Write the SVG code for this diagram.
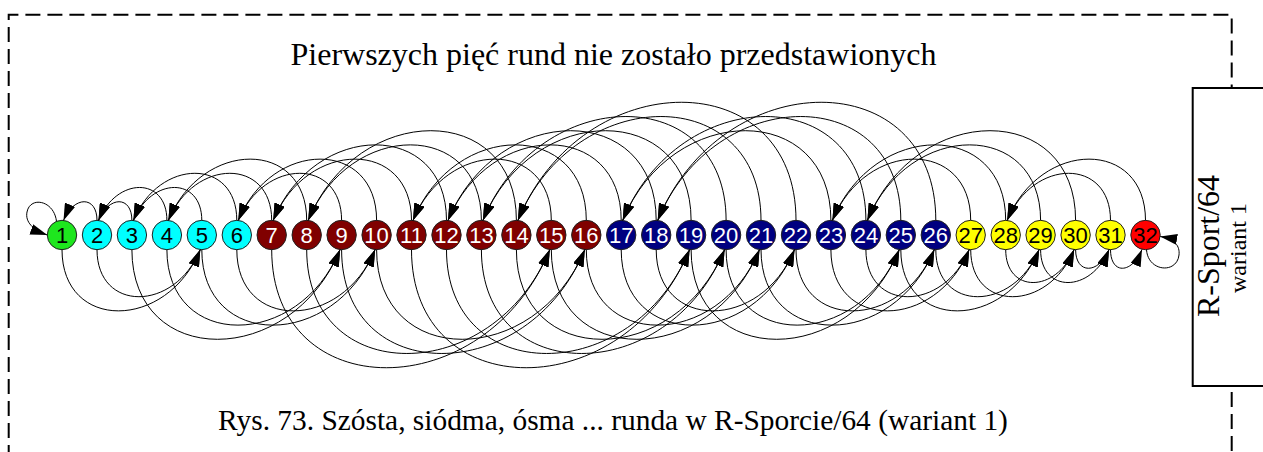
<svg xmlns="http://www.w3.org/2000/svg" width="1263" height="452" viewBox="0 0 1263 452">
<style>
.bd{fill:none;stroke:#000;stroke-width:2;stroke-dasharray:15 7}
.box{fill:#fff;stroke:#000;stroke-width:2}
.ser{font-family:"Liberation Serif","Times New Roman",serif;fill:#000}
.nd circle{stroke:#222;stroke-width:1}
.nd text{font-family:"Liberation Sans",Arial,sans-serif;font-size:22px;text-anchor:middle}
.g{fill:#1ee61e}.c{fill:#00ffff}.m{fill:#800000}.n{fill:#000080}.y{fill:#ffff00}.r{fill:#ff0000}
.tb{fill:#000}.tw{fill:#fff}
#edges path{fill:none;stroke:#000;stroke-width:1;marker-end:url(#ah)}
</style>
<defs>
<marker id="ah" viewBox="0 0 17 11" refX="17" refY="5.5" markerWidth="17" markerHeight="11" markerUnits="userSpaceOnUse" orient="auto"><path d="M0,0 L17,5.5 L0,11 z" fill="#000"/></marker>
</defs>
<rect width="1263" height="452" fill="#fff"/>
<path class="bd" d="M8.7,460 V14.7 H1231.7 V88"/>
<path class="bd" d="M1231.7,392 V460"/>
<text class="ser" x="613.5" y="65" font-size="32" text-anchor="middle">Pierwszych pięć rund nie zostało przedstawionych</text>
<text class="ser" x="613" y="430" font-size="29.4" text-anchor="middle">Rys. 73. Szósta, siódma, ósma ... runda w R-Sporcie/64 (wariant 1)</text>
<g id="label-box">
<rect class="box" x="1192.7" y="88" width="80" height="298"/>
<text class="ser" transform="translate(1219,246) rotate(-90)" font-size="32" text-anchor="middle">R-Sport/64</text>
<text class="ser" transform="translate(1246,248) rotate(-90)" font-size="24" text-anchor="middle">wariant 1</text>
</g>
<g class="nd">
<g id="n1"><circle cx="62" cy="235" r="14.7" class="g"/><text x="62" y="243.3" class="tb">1</text></g>
<g id="n2"><circle cx="97" cy="235" r="14.7" class="c"/><text x="97" y="243.3" class="tb">2</text></g>
<g id="n3"><circle cx="131.9" cy="235" r="14.7" class="c"/><text x="131.9" y="243.3" class="tb">3</text></g>
<g id="n4"><circle cx="166.9" cy="235" r="14.7" class="c"/><text x="166.9" y="243.3" class="tb">4</text></g>
<g id="n5"><circle cx="201.8" cy="235" r="14.7" class="c"/><text x="201.8" y="243.3" class="tb">5</text></g>
<g id="n6"><circle cx="236.8" cy="235" r="14.7" class="c"/><text x="236.8" y="243.3" class="tb">6</text></g>
<g id="n7"><circle cx="271.7" cy="235" r="14.7" class="m"/><text x="271.7" y="243.3" class="tw">7</text></g>
<g id="n8"><circle cx="306.7" cy="235" r="14.7" class="m"/><text x="306.7" y="243.3" class="tw">8</text></g>
<g id="n9"><circle cx="341.6" cy="235" r="14.7" class="m"/><text x="341.6" y="243.3" class="tw">9</text></g>
<g id="n10"><circle cx="376.6" cy="235" r="14.7" class="m"/><text x="376.6" y="243.3" class="tw">10</text></g>
<g id="n11"><circle cx="411.5" cy="235" r="14.7" class="m"/><text x="411.5" y="243.3" class="tw">11</text></g>
<g id="n12"><circle cx="446.5" cy="235" r="14.7" class="m"/><text x="446.5" y="243.3" class="tw">12</text></g>
<g id="n13"><circle cx="481.4" cy="235" r="14.7" class="m"/><text x="481.4" y="243.3" class="tw">13</text></g>
<g id="n14"><circle cx="516.4" cy="235" r="14.7" class="m"/><text x="516.4" y="243.3" class="tw">14</text></g>
<g id="n15"><circle cx="551.3" cy="235" r="14.7" class="m"/><text x="551.3" y="243.3" class="tw">15</text></g>
<g id="n16"><circle cx="586.3" cy="235" r="14.7" class="m"/><text x="586.3" y="243.3" class="tw">16</text></g>
<g id="n17"><circle cx="621.2" cy="235" r="14.7" class="n"/><text x="621.2" y="243.3" class="tw">17</text></g>
<g id="n18"><circle cx="656.2" cy="235" r="14.7" class="n"/><text x="656.2" y="243.3" class="tw">18</text></g>
<g id="n19"><circle cx="691.1" cy="235" r="14.7" class="n"/><text x="691.1" y="243.3" class="tw">19</text></g>
<g id="n20"><circle cx="726.1" cy="235" r="14.7" class="n"/><text x="726.1" y="243.3" class="tw">20</text></g>
<g id="n21"><circle cx="761" cy="235" r="14.7" class="n"/><text x="761" y="243.3" class="tw">21</text></g>
<g id="n22"><circle cx="796" cy="235" r="14.7" class="n"/><text x="796" y="243.3" class="tw">22</text></g>
<g id="n23"><circle cx="830.9" cy="235" r="14.7" class="n"/><text x="830.9" y="243.3" class="tw">23</text></g>
<g id="n24"><circle cx="865.9" cy="235" r="14.7" class="n"/><text x="865.9" y="243.3" class="tw">24</text></g>
<g id="n25"><circle cx="900.8" cy="235" r="14.7" class="n"/><text x="900.8" y="243.3" class="tw">25</text></g>
<g id="n26"><circle cx="935.8" cy="235" r="14.7" class="n"/><text x="935.8" y="243.3" class="tw">26</text></g>
<g id="n27"><circle cx="970.7" cy="235" r="14.7" class="y"/><text x="970.7" y="243.3" class="tb">27</text></g>
<g id="n28"><circle cx="1005.7" cy="235" r="14.7" class="y"/><text x="1005.7" y="243.3" class="tb">28</text></g>
<g id="n29"><circle cx="1040.6" cy="235" r="14.7" class="y"/><text x="1040.6" y="243.3" class="tb">29</text></g>
<g id="n30"><circle cx="1075.6" cy="235" r="14.7" class="y"/><text x="1075.6" y="243.3" class="tb">30</text></g>
<g id="n31"><circle cx="1110.5" cy="235" r="14.7" class="y"/><text x="1110.5" y="243.3" class="tb">31</text></g>
<g id="n32"><circle cx="1145.5" cy="235" r="14.7" class="r"/><text x="1145.5" y="243.3" class="tb">32</text></g>
</g>
<g id="edges">
<path d="M56.5,221.4 C54,200 30,196 27,212 C25,222 33,230 47.3,235"/>
<path d="M97,220.4 C97,195.5 73.8,195.5 63.5,220.4"/>
<path d="M131.9,220.4 C131.9,195.5 108.8,195.5 98.5,220.4"/>
<path d="M166.9,220.4 C166.9,176.5 116.6,176.5 98.5,220.4"/>
<path d="M201.8,220.4 C201.8,176.5 151.5,176.5 133.4,220.4"/>
<path d="M236.8,220.4 C236.8,157.6 159.3,157.6 133.4,220.4"/>
<path d="M271.7,220.4 C271.7,157.6 194.3,157.6 168.4,220.4"/>
<path d="M306.7,220.4 C306.7,138.7 202.1,138.7 168.4,220.4"/>
<path d="M341.6,220.4 C341.6,157.6 264.2,157.6 238.3,220.4"/>
<path d="M376.6,220.4 C376.6,138.7 272,138.7 238.3,220.4"/>
<path d="M411.5,220.4 C411.5,138.7 306.9,138.7 273.2,220.4"/>
<path d="M446.5,220.4 C446.5,119.7 314.7,119.7 273.2,220.4"/>
<path d="M481.4,220.4 C481.4,119.7 349.7,119.7 308.2,220.4"/>
<path d="M516.4,220.4 C516.4,100.8 357.5,100.8 308.2,220.4"/>
<path d="M551.3,220.4 C551.3,138.7 446.7,138.7 413,220.4"/>
<path d="M586.3,220.4 C586.3,119.7 454.5,119.7 413,220.4"/>
<path d="M621.2,220.4 C621.2,119.7 489.5,119.7 448,220.4"/>
<path d="M656.2,220.4 C656.2,100.8 497.3,100.8 448,220.4"/>
<path d="M691.1,220.4 C691.1,100.8 532.2,100.8 482.9,220.4"/>
<path d="M726.1,220.4 C726.1,81.9 540,81.9 482.9,220.4"/>
<path d="M761,220.4 C761,81.9 575,81.9 517.9,220.4"/>
<path d="M796,220.4 C796,62.9 582.9,62.9 517.9,220.4"/>
<path d="M830.9,220.4 C830.9,100.8 672,100.8 622.7,220.4"/>
<path d="M865.9,220.4 C865.9,81.9 679.8,81.9 622.7,220.4"/>
<path d="M900.8,220.4 C900.8,81.9 714.8,81.9 657.7,220.4"/>
<path d="M935.8,220.4 C935.8,62.9 722.7,62.9 657.7,220.4"/>
<path d="M970.7,220.4 C970.7,138.7 866.1,138.7 832.4,220.4"/>
<path d="M1005.7,220.4 C1005.7,119.7 873.9,119.7 832.4,220.4"/>
<path d="M1040.6,220.4 C1040.6,119.7 908.9,119.7 867.4,220.4"/>
<path d="M1075.6,220.4 C1075.6,100.8 916.7,100.8 867.4,220.4"/>
<path d="M1110.5,220.4 C1110.5,157.6 1033.1,157.6 1007.2,220.4"/>
<path d="M1145.5,220.4 C1145.5,138.7 1040.9,138.7 1007.2,220.4"/>
<path d="M62,249.6 C62,331.3 166.6,331.3 200.3,249.6"/>
<path d="M97,249.6 C97,312.4 174.4,312.4 200.3,249.6"/>
<path d="M131.9,249.6 C131.9,369.2 290.8,369.2 340.1,249.6"/>
<path d="M166.9,249.6 C166.9,350.3 298.6,350.3 340.1,249.6"/>
<path d="M201.8,249.6 C201.8,350.3 333.6,350.3 375.1,249.6"/>
<path d="M236.8,249.6 C236.8,331.3 341.4,331.3 375.1,249.6"/>
<path d="M271.7,249.6 C271.7,407.1 484.8,407.1 549.8,249.6"/>
<path d="M306.7,249.6 C306.7,388.1 492.7,388.1 549.8,249.6"/>
<path d="M341.6,249.6 C341.6,388.1 527.7,388.1 584.8,249.6"/>
<path d="M376.6,249.6 C376.6,369.2 535.5,369.2 584.8,249.6"/>
<path d="M411.5,249.6 C411.5,407.1 624.6,407.1 689.6,249.6"/>
<path d="M446.5,249.6 C446.5,388.1 632.5,388.1 689.6,249.6"/>
<path d="M481.4,249.6 C481.4,388.1 667.5,388.1 724.6,249.6"/>
<path d="M516.4,249.6 C516.4,369.2 675.3,369.2 724.6,249.6"/>
<path d="M551.3,249.6 C551.3,369.2 710.2,369.2 759.5,249.6"/>
<path d="M586.3,249.6 C586.3,350.3 718,350.3 759.5,249.6"/>
<path d="M621.2,249.6 C621.2,350.3 753,350.3 794.5,249.6"/>
<path d="M656.2,249.6 C656.2,331.3 760.8,331.3 794.5,249.6"/>
<path d="M691.1,249.6 C691.1,369.2 850,369.2 899.3,249.6"/>
<path d="M726.1,249.6 C726.1,350.3 857.8,350.3 899.3,249.6"/>
<path d="M761,249.6 C761,350.3 892.8,350.3 934.3,249.6"/>
<path d="M796,249.6 C796,331.3 900.6,331.3 934.3,249.6"/>
<path d="M830.9,249.6 C830.9,331.3 935.5,331.3 969.2,249.6"/>
<path d="M865.9,249.6 C865.9,312.4 943.3,312.4 969.2,249.6"/>
<path d="M900.8,249.6 C900.8,331.3 1005.4,331.3 1039.1,249.6"/>
<path d="M935.8,249.6 C935.8,312.4 1013.2,312.4 1039.1,249.6"/>
<path d="M970.7,249.6 C970.7,312.4 1048.2,312.4 1074.1,249.6"/>
<path d="M1005.7,249.6 C1005.7,293.5 1056,293.5 1074.1,249.6"/>
<path d="M1040.6,249.6 C1040.6,293.5 1090.9,293.5 1109,249.6"/>
<path d="M1075.6,249.6 C1075.6,274.5 1098.7,274.5 1109,249.6"/>
<path d="M1110.5,249.6 C1110.5,274.5 1131.7,274.5 1142,249.4"/>
<path d="M1146.5,249.7 C1148,272 1177,274 1179,255 C1180,246 1175,239 1160.2,236.5"/>
</g>
</svg>
